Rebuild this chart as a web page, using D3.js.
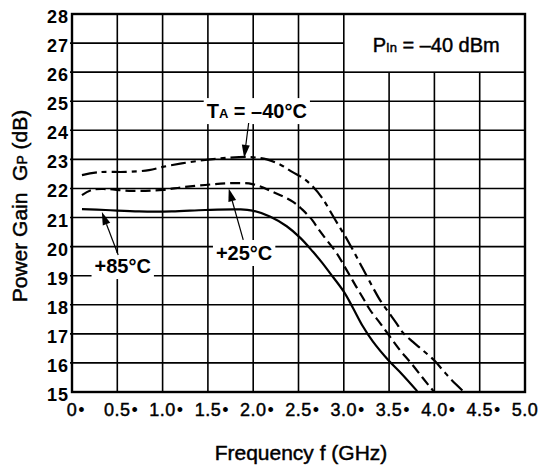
<!DOCTYPE html>
<html>
<head>
<meta charset="utf-8">
<script src="https://cdn.jsdelivr.net/npm/d3@7"></script>
<style>
  body { margin: 0; padding: 0; background: white; }
  text { font-family: "Liberation Sans", Arial, Helvetica, sans-serif; fill: black; }
  .medium { stroke: black; stroke-width: 0.45px; }
</style>
</head>
<body>
<div id="chart"></div>
<script>
const width = 544;
const height = 468;

// frequency (GHz) / power gain (dB)
const freqM40 = [0.11, 0.3, 0.6, 0.85, 1.0, 1.21, 1.47, 1.7, 1.96, 2.15, 2.31, 2.43, 2.55, 2.66, 2.76, 2.9, 3.05, 3.2, 3.32, 3.4, 3.49, 3.58, 3.65, 3.76, 3.87, 4.0, 4.09, 4.19, 4.31];
const gainM40 = [22.46, 22.56, 22.57, 22.63, 22.74, 22.86, 22.98, 23.05, 23.08, 23.0, 22.8, 22.57, 22.36, 22.06, 21.68, 20.95, 20.17, 19.3, 18.6, 18.16, 17.76, 17.37, 17.05, 16.73, 16.44, 16.08, 15.76, 15.41, 15.05];

const freqP25 = [0.11, 0.22, 0.37, 0.63, 1.0, 1.21, 1.47, 1.73, 1.99, 2.22, 2.44, 2.54, 2.65, 2.72, 2.81, 2.92, 3.03, 3.13, 3.23, 3.29, 3.4, 3.51, 3.62, 3.73, 3.86, 3.95, 3.99];
const gainP25 = [21.77, 21.95, 21.98, 21.92, 21.95, 22.04, 22.12, 22.18, 22.15, 21.88, 21.54, 21.28, 20.92, 20.6, 20.23, 19.78, 19.2, 18.66, 18.14, 17.82, 17.37, 16.9, 16.44, 16.04, 15.53, 15.18, 15.03];

const freqP85 = [0.11, 0.37, 0.74, 1.1, 1.47, 1.84, 1.99, 2.19, 2.37, 2.52, 2.66, 2.76, 2.85, 3.0, 3.1, 3.21, 3.32, 3.49, 3.64, 3.81];
const gainP85 = [21.29, 21.26, 21.21, 21.21, 21.26, 21.28, 21.24, 21.03, 20.7, 20.3, 19.82, 19.45, 19.08, 18.45, 17.9, 17.26, 16.74, 16.1, 15.62, 15.03];

const xTicks = [0, 0.5, 1.0, 1.5, 2.0, 2.5, 3.0, 3.5, 4.0, 4.5, 5.0];
const xTickLabels = ["0", "0.5", "1.0", "1.5", "2.0", "2.5", "3.0", "3.5", "4.0", "4.5", "5.0"];
const yTicks = [15, 16, 17, 18, 19, 20, 21, 22, 23, 24, 25, 26, 27, 28];

const svg = d3.select("#chart")
  .append("svg")
  .attr("width", width)
  .attr("height", height)
  .style("background-color", "white");

const x = d3.scaleLinear().domain([0, 5]).range([72, 525]);
const y = d3.scaleLinear().domain([15, 28]).range([392, 14]);

// grid
svg.selectAll(".vgrid")
  .data(xTicks.slice(1, -1))
  .enter()
  .append("line")
  .attr("x1", d => x(d)).attr("x2", d => x(d))
  .attr("y1", y(15)).attr("y2", y(28))
  .attr("stroke", "black")
  .attr("stroke-width", 1.6);

svg.selectAll(".hgrid")
  .data(yTicks.slice(1, -1))
  .enter()
  .append("line")
  .attr("x1", x(0) - 2).attr("x2", x(5))
  .attr("y1", d => y(d)).attr("y2", d => y(d))
  .attr("stroke", "black")
  .attr("stroke-width", 1.6);

// condition box, top right
svg.append("rect")
  .attr("x", x(3)).attr("y", y(28))
  .attr("width", x(5) - x(3)).attr("height", y(26) - y(28))
  .attr("fill", "white")
  .attr("stroke", "black")
  .attr("stroke-width", 1.6);

const pin = svg.append("text")
  .attr("class", "medium")
  .attr("x", x(4.02)).attr("y", y(26.69))
  .attr("text-anchor", "middle")
  .style("font-size", "20px");
pin.append("tspan").text("P");
pin.append("tspan").style("font-size", "13px").text("In");
pin.append("tspan").text(" = \u201340 dBm");

// labels with white backing
function label(fx, gy, parts) {
  const g = svg.append("g");
  const t = g.append("text")
    .attr("x", x(fx)).attr("y", y(gy))
    .attr("text-anchor", "middle")
    .style("font-size", "20px")
    .style("font-weight", "bold");
  parts.forEach(p => {
    t.append("tspan").style("font-size", p[1] ? p[1] + "px" : null).text(p[0]);
  });
  const b = t.node().getBBox();
  g.insert("rect", "text")
    .attr("x", b.x - 3).attr("y", b.y - 2)
    .attr("width", b.width + 6).attr("height", b.height + 4)
    .attr("fill", "white");
}

label(2.04, 24.42, [["T"], ["A", 13], [" = \u201340\u00B0C"]]);
label(1.9, 19.54, [["+25\u00B0C"]]);
label(0.56, 19.09, [["+85\u00B0C"]]);

// curves
const line = d3.line()
  .x(d => x(d[0]))
  .y(d => y(d[1]))
  .curve(d3.curveCatmullRom.alpha(0.5));

const series = [
  { f: freqM40, g: gainM40, dash: "15,5,5,5" },
  { f: freqP25, g: gainP25, dash: "10,5" },
  { f: freqP85, g: gainP85, dash: null }
];

series.forEach(s => {
  svg.append("path")
    .datum(s.f.map((f, i) => [f, s.g[i]]))
    .attr("d", line)
    .attr("fill", "none")
    .attr("stroke", "black")
    .attr("stroke-width", 2.2)
    .attr("stroke-dasharray", s.dash);
});

// arrows: [tail f, tail G, tip f, tip G]
const arrows = [
  [1.95, 24.25, 1.9, 23.05],
  [1.89, 20.23, 1.73, 22.0],
  [0.51, 19.71, 0.33, 21.19]
];

arrows.forEach(a => {
  const x1 = x(a[0]), y1 = y(a[1]), x2 = x(a[2]), y2 = y(a[3]);
  const ang = Math.atan2(y2 - y1, x2 - x1);
  const len = 13, hw = 4;
  const bx = x2 - len * Math.cos(ang), by = y2 - len * Math.sin(ang);
  svg.append("line")
    .attr("x1", x1).attr("y1", y1).attr("x2", bx).attr("y2", by)
    .attr("stroke", "black").attr("stroke-width", 1.2);
  svg.append("path")
    .attr("d", "M" + x2 + "," + y2 +
      "L" + (bx + hw * Math.sin(ang)) + "," + (by - hw * Math.cos(ang)) +
      "L" + (bx - hw * Math.sin(ang)) + "," + (by + hw * Math.cos(ang)) + "Z")
    .attr("fill", "black");
});

// frame
svg.append("rect")
  .attr("x", x(0)).attr("y", y(28))
  .attr("width", x(5) - x(0)).attr("height", y(15) - y(28))
  .attr("fill", "none")
  .attr("stroke", "black")
  .attr("stroke-width", 2.4);

// y tick labels
svg.selectAll(".ylab")
  .data(yTicks)
  .enter()
  .append("text")
  .attr("x", x(0) - 3)
  .attr("y", d => y(d) + 9)
  .attr("text-anchor", "end")
  .style("font-size", "18px")
  .style("font-weight", "bold")
  .style("letter-spacing", "1px")
  .text(d => d);

// x tick labels, each followed by a bullet
xTicks.forEach((d, i) => {
  const t = svg.append("text")
    .attr("class", "medium")
    .attr("x", x(d))
    .attr("y", 416)
    .attr("text-anchor", "middle")
    .style("font-size", "18px")
    .style("letter-spacing", "0.5px")
    .text(xTickLabels[i]);
  if (i < xTicks.length - 1) {
    const w = t.node().getComputedTextLength();
    svg.append("text")
      .attr("x", x(d) + w / 2 + 1)
      .attr("y", 416)
      .style("font-size", "18px")
      .text("\u2022");
  }
});

// axis titles
svg.append("text")
  .attr("class", "medium")
  .attr("x", 301)
  .attr("y", 460)
  .attr("text-anchor", "middle")
  .style("font-size", "21px")
  .text("Frequency f (GHz)");

const yt = svg.append("text")
  .attr("class", "medium")
  .attr("transform", "translate(27,206) rotate(-90)")
  .attr("text-anchor", "middle")
  .style("font-size", "21px");
yt.append("tspan").text("Power Gain\u00A0\u00A0G");
yt.append("tspan").style("font-size", "14px").text("P");
yt.append("tspan").text(" (dB)");
</script>
</body>
</html>
